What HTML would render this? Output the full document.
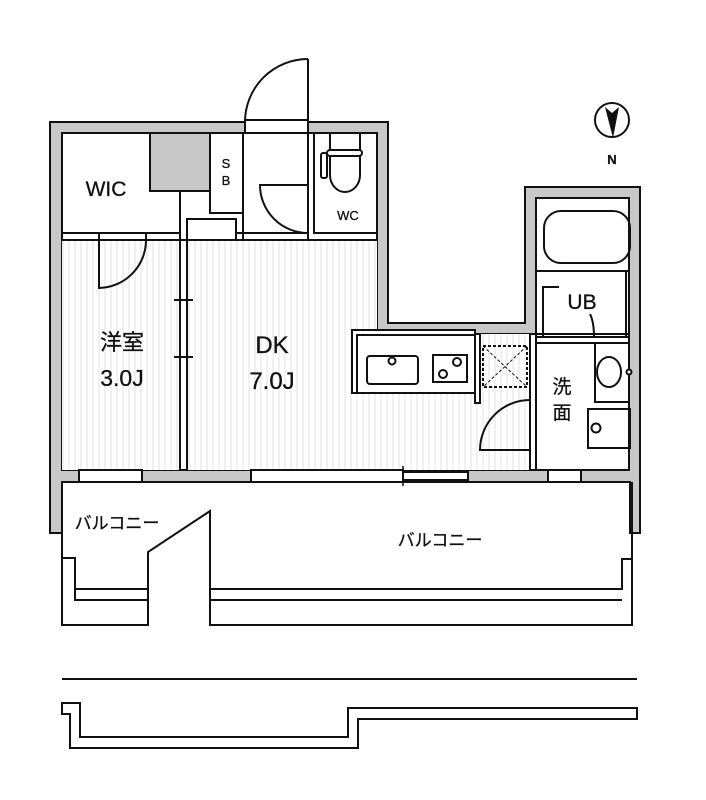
<!DOCTYPE html>
<html><head><meta charset="utf-8"><style>
html,body{margin:0;padding:0;background:#fff}
svg{display:block}
text{font-family:"Liberation Sans","Noto Sans CJK JP",sans-serif;fill:#111;stroke:#111;stroke-width:0.3}
</style></head><body>
<svg width="706" height="800" viewBox="0 0 706 800" xmlns="http://www.w3.org/2000/svg">
<defs>
<pattern id="fl" width="6" height="10" patternUnits="userSpaceOnUse">
<rect width="6" height="10" fill="#fff"/><line x1="3" y1="0" x2="3" y2="10" stroke="#e2e2e2" stroke-width="1"/>
</pattern>
</defs>
<g stroke="#111" stroke-width="2" fill="none">
<path d="M50,122 H388 V323 H525 V187 H640 V533 H630 V482 H62 V533 H50 Z" fill="#c8c8c8"/>
<rect x="62" y="133" width="315" height="337" fill="#fff"/>
<rect x="377" y="334" width="252" height="136" fill="#fff"/>
<rect x="536" y="198" width="93" height="136" fill="#fff"/>
<rect x="62" y="240" width="118" height="230" fill="url(#fl)" stroke="none"/>
<rect x="187" y="240" width="190" height="230" fill="url(#fl)" stroke="none"/>
<rect x="352" y="334" width="178" height="136" fill="url(#fl)" stroke="none"/>
<path d="M150,133 H210 V191 H150 Z" fill="#c8c8c8"/>
<path d="M62,233 H180 V191 H150 V133"/>
<path d="M62,240 H180"/>
<rect x="210" y="133" width="33" height="80" fill="#fff"/>
<rect x="187" y="219" width="49" height="21" fill="#fff"/>
<path d="M180,191 V470 M187,240 V470 M180,240 H377"/>
<path d="M174,300 H193 M174,357 H193"/>
<path d="M243,133 V233 H308 V133 M243,233 V240 M308,233 V240 M314,133 V233 H377 M236,233 H243"/>
<rect x="245" y="120" width="63" height="13" fill="#fff"/>
<path d="M308,122 V59 M245,122 A63,63 0 0 1 308,59"/>
<path d="M308,185 H260 A48,48 0 0 0 308,233"/>
<rect x="330" y="133" width="30" height="17" fill="#fff"/>
<rect x="327" y="150" width="35" height="6" rx="3" fill="#fff"/>
<path d="M330,156 V175 A15,17 0 0 0 360,175 V156"/>
<rect x="321" y="153" width="6" height="25" rx="2" fill="#fff"/>
<rect x="99" y="233" width="47" height="7" fill="#fff"/>
<path d="M99,240 V288 A48,48 0 0 0 146,240"/>
<rect x="352" y="330" width="123" height="63" fill="#fff"/>
<rect x="357" y="335" width="118" height="58" fill="#fff"/>
<rect x="367" y="356" width="51" height="28" rx="3"/>
<circle cx="392" cy="361" r="3.5"/>
<rect x="433" y="355" width="34" height="27"/>
<circle cx="457" cy="362" r="4"/><circle cx="443" cy="374" r="4"/>
<rect x="475" y="334" width="5" height="69" fill="#fff"/>
<rect x="483" y="346" width="44" height="41" stroke-dasharray="3,2"/>
<path d="M483,346 L527,387 M527,346 L483,387" stroke-dasharray="3,2" stroke-width="1"/>
<rect x="530" y="334" width="6" height="136" fill="#fff"/>
<path d="M530,450 H480 A50,50 0 0 1 530,400"/>
<path d="M536,271 H629 M536,337 H629 M536,343 H629 M626,271 V337"/>
<rect x="544" y="211" width="86" height="52" rx="17"/>
<path d="M543,337 V287 H559 M590,314 Q594,322 594,337"/>
<rect x="595" y="343" width="34" height="59"/>
<ellipse cx="609" cy="372" rx="12" ry="15"/>
<circle cx="629" cy="372" r="2.5" fill="#fff"/>
<rect x="588" y="409" width="42" height="39"/>
<circle cx="596" cy="428" r="4.5"/>
<rect x="79" y="470" width="63" height="12" fill="#fff"/>
<rect x="251" y="470" width="152" height="12" fill="#fff"/>
<rect x="403" y="472" width="65" height="8" fill="#fff"/>
<path d="M403,466 V486" stroke-width="1.5"/>
<rect x="548" y="470" width="33" height="12" fill="#fff"/>
<path d="M62,482 V625 H148 V552 L210,511 V625 H632 V482"/>
<path d="M62,558 H75 V600 H148 M75,589 H148"/>
<path d="M210,589 H622 V559 H632 M210,600 H622"/>
<path d="M62,679 H637"/>
<path d="M62,703 H80 V737 H348 V708 H637 V719 H358 V748 H70 V714 H62 Z"/>
<circle cx="612" cy="120" r="17"/>
</g>
<path d="M605,107 L612,113 L619,107 L613,138 Z" fill="#111"/>
<text x="612" y="164" font-size="13" font-weight="bold" text-anchor="middle">N</text>
<text x="106" y="196" font-size="21" text-anchor="middle">WIC</text>
<text x="226" y="168" font-size="13" text-anchor="middle">S</text>
<text x="226" y="185" font-size="13" text-anchor="middle">B</text>
<text x="348" y="220" font-size="13" text-anchor="middle">WC</text>
<text x="122" y="350" font-size="22" text-anchor="middle">洋室</text>
<text x="122" y="386" font-size="23" text-anchor="middle">3.0J</text>
<text x="272" y="353" font-size="24" text-anchor="middle">DK</text>
<text x="272" y="389" font-size="24" text-anchor="middle">7.0J</text>
<text x="582" y="309" font-size="21" text-anchor="middle">UB</text>
<text x="562" y="393" font-size="19" text-anchor="middle">洗</text>
<text x="562" y="419" font-size="19" text-anchor="middle">面</text>
<text x="117" y="529" font-size="17" text-anchor="middle">バルコニー</text>
<text x="440" y="546" font-size="17" text-anchor="middle">バルコニー</text>
</svg>
</body></html>
